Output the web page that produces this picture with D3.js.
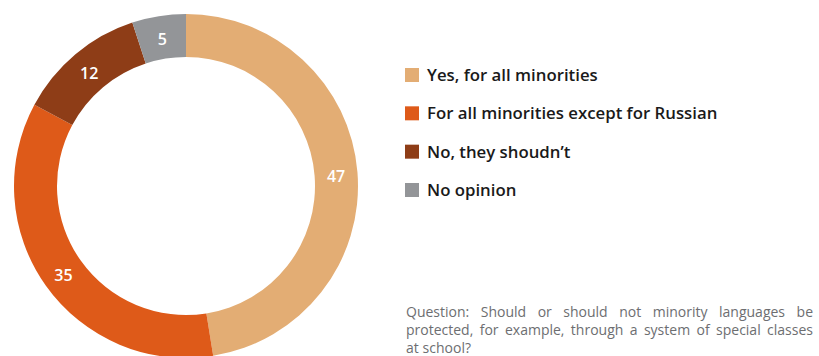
<!DOCTYPE html>
<html>
<head>
<meta charset="utf-8">
<script src="https://cdn.jsdelivr.net/npm/d3@7"></script>
<style>
  html, body { margin: 0; padding: 0; background: #fff; }
  svg { display: block; }
</style>
</head>
<body>
<svg id="chart" width="819" height="356"></svg>
<script>
// Survey answers (percent)
const categories = [
  "Yes, for all minorities",
  "For all minorities except for Russian",
  "No, they shoudn\u2019t",
  "No opinion"
];
const values = [47, 35, 12, 5];
const colors = ["#E3AD74", "#DE5A19", "#8E3D17", "#939598"];
const questionLines = [
  "Question: Should or should not minority languages be",
  "protected, for example, through a system of special classes",
  "at school?"
];

const svg = d3.select("#chart");
const cx = 186, cy = 186, outerR = 172, innerR = 129;
const font = "'Open Sans', Roboto, sans-serif";

const data = categories.map((c, i) => ({ name: c, value: values[i], color: colors[i] }));

const pie = d3.pie().value(d => d.value).sort(null);
const arc = d3.arc().innerRadius(innerR).outerRadius(outerR);

const g = svg.append("g").attr("transform", `translate(${cx},${cy})`);
const arcs = pie(data);

g.selectAll("path.slice")
  .data(arcs)
  .join("path")
  .attr("class", "slice")
  .attr("d", arc)
  .attr("fill", d => d.data.color);

g.selectAll("text.val")
  .data(arcs)
  .join("text")
  .attr("class", "val")
  .attr("transform", d => `translate(${arc.centroid(d)})`)
  .attr("text-anchor", "middle")
  .attr("dy", "0.5em")
  .attr("fill", "#fff")
  .style("font-family", font)
  .style("font-weight", 600)
  .style("font-size", "16px")
  .text(d => d.data.value);

// Legend
const legendY = d3.scalePoint().domain(categories).range([75, 190]);
const legend = svg.append("g");
const item = legend.selectAll("g.item")
  .data(data)
  .join("g")
  .attr("class", "item")
  .attr("transform", d => `translate(405,${legendY(d.name)})`);
item.append("rect")
  .attr("x", 0).attr("y", -7)
  .attr("width", 14).attr("height", 14)
  .attr("fill", d => d.color);
item.append("text")
  .attr("x", 22)
  .attr("dy", "0.36em")
  .attr("fill", "#1a1a1a")
  .style("font-family", font)
  .style("font-weight", 600)
  .style("font-size", "16.8px")
  .text(d => d.name);

// Question note, justified between x0 and x1 (last line left-aligned)
const x0 = 406, x1 = 813;
const note = svg.append("g")
  .style("font-family", font)
  .style("font-size", "14px")
  .attr("fill", "#6d6e71");
questionLines.forEach((line, li) => {
  const y = 317 + li * 18;
  const words = line.split(" ");
  const last = li === questionLines.length - 1;
  const nodes = words.map(w => note.append("text").attr("y", y).text(w));
  const widths = nodes.map(n => n.node().getComputedTextLength());
  const total = d3.sum(widths);
  const gap = last ? 3.8 : (x1 - x0 - total) / (words.length - 1);
  let x = x0;
  nodes.forEach((n, i) => { n.attr("x", x); x += widths[i] + gap; });
});
</script>
</body>
</html>
